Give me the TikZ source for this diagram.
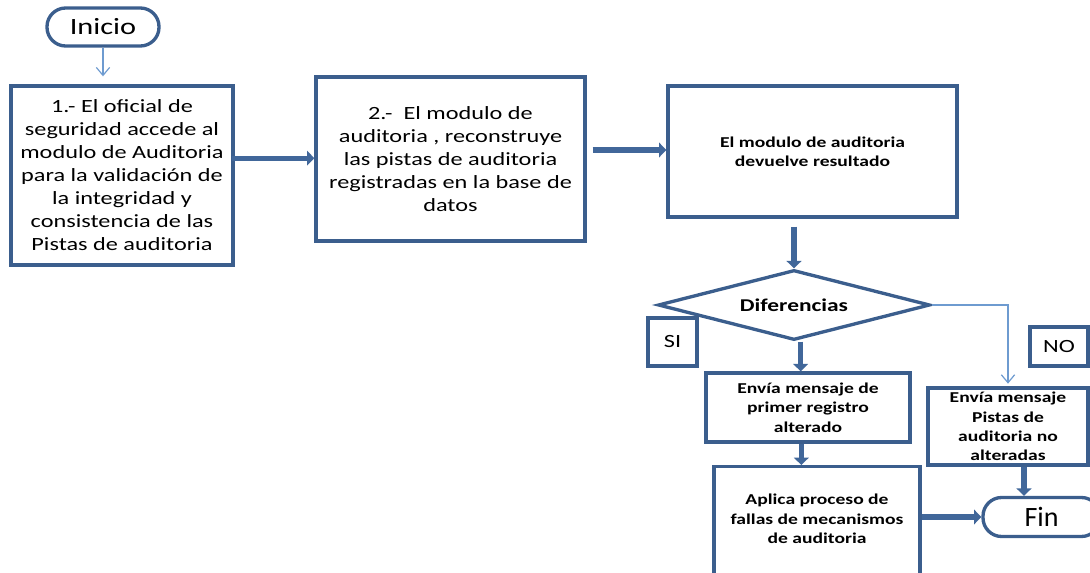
\documentclass[tikz,border=0pt]{standalone}
\usepackage{fontspec}
\setmainfont[FakeStretch=1.3]{Carlito}
\newfontfamily\finfont{Carlito}
\usepackage{tikz}
\usetikzlibrary{calc, positioning, shapes.geometric, arrows.meta}
\definecolor{borde}{HTML}{3B5E8D}
\definecolor{flecha}{HTML}{41679A}
\definecolor{fina}{HTML}{6E9BD0}
\tikzstyle{caja}=[draw=borde, line width=2.5pt, fill=white, shape=rectangle, align=center, inner sep=2pt, font=\fontsize{14}{17.25}\selectfont]
\tikzstyle{cajab}=[caja, font=\bfseries\fontsize{11.3}{14.5}\selectfont]
\tikzstyle{term}=[draw=borde, line width=2.5pt, fill=white, shape=rectangle, rounded corners=14pt]
\tikzstyle{gruesa}=[draw=flecha, line width=3.8pt, -{Triangle[length=5.5pt,width=11pt]}]
\tikzstyle{delgada}=[draw=fina, line width=0.9pt, -{Straight Barb[length=6pt,width=10pt]}]

\begin{document}
\begin{tikzpicture}[x=0.75pt, y=-0.75pt]
\useasboundingbox (0,0) rectangle (1090,573);
\clip (0,0) rectangle (1090,573);
% the start and the first steps
\node[term, minimum width=84pt, minimum height=28.5pt, font=\fontsize{17.5}{20}\selectfont] (ini) at (103,27) {Inicio};
\node[caja, minimum width=166.5pt, minimum height=134.25pt] (pas1) at (122,175.5) {1.- El oficial de\\seguridad accede al\\modulo de Auditoria\\para la validación de\\la integridad y\\consistencia de las\\Pistas de auditoria};
\node[caja, minimum width=201.75pt, minimum height=123pt] (pas2) at (450.5,159) {2.-\ \ El modulo de\\auditoria , reconstruye\\las pistas de auditoria\\registradas en la base de\\datos};
\node[cajab, minimum width=216.75pt, minimum height=98.25pt] (res) at (812.5,151.5) {El modulo de auditoria\\devuelve resultado};
% the decision
\node[draw=borde, line width=2.5pt, fill=white, shape=diamond, aspect=3.9, minimum width=204pt, minimum height=52.5pt, inner sep=0pt, font=\bfseries\fontsize{13.5}{16}\selectfont] (dif) at (794,305) {Diferencias};
\node[caja, minimum width=36.75pt, minimum height=36pt] (si) at (672.5,342) {SI};
\node[caja, minimum width=43.5pt, minimum height=29.25pt] (no) at (1059,346.5) {NO};
% the messages and the end
\node[cajab, minimum width=153pt, minimum height=51.75pt] (env1) at (808,407.5) {Envía mensaje de\\primer registro\\alterado};
\node[cajab, minimum width=120pt, minimum height=57.75pt] (env2) at (1008,426.5) {Envía mensaje\\Pistas de\\auditoria no\\alteradas};
\node[caja, minimum width=154.5pt, minimum height=105pt, anchor=north] (apl) at (817,465) {};
\node[align=center, font=\bfseries\fontsize{11.3}{14.5}\selectfont] (aplt) at (817,519) {Aplica proceso de\\fallas de mecanismos\\de auditoria};
\node[term, minimum width=87.75pt, minimum height=29.25pt, font=\finfont\fontsize{21}{24}\selectfont] (fin) at (1041.5,517) {Fin};
% the arrows
\draw[delgada] (ini.south) -- ([yshift=6pt]pas1.north -| ini.south);
\draw[gruesa] ([xshift=-2pt,yshift=13pt]pas1.east) -- ([yshift=13pt]pas1.east -| pas2.west);
\draw[gruesa] ([xshift=4.5pt,yshift=6.75pt]pas2.east) -- ([yshift=6.75pt]pas2.east -| res.west);
\draw[gruesa] ([yshift=-6pt]res.south -| dif.north) -- (dif.north);
\draw[gruesa] ([xshift=5pt]dif.south) -- ([xshift=5pt]dif.south |- env1.north);
\draw[gruesa] ([xshift=-5pt]env1.south) -- ([xshift=-5pt]env1.south |- apl.north);
\draw[delgada] (dif.east) -| ([yshift=2pt]env2.north);
\draw[gruesa] ([xshift=12pt]env2.south) -- ([xshift=12pt]env2.south |- fin.north);
\draw[gruesa] (apl.east |- fin.west) -- (fin.west);
\end{tikzpicture}
\end{document}
